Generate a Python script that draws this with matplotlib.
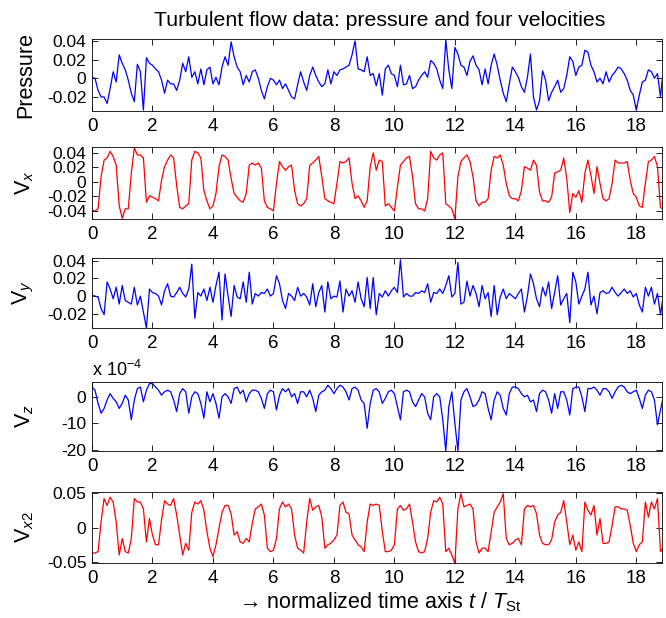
"""
Turbulent flow data: pressure and four velocities
=================================================

Five stacked time traces against normalized time t / T_St.
"""

import numpy as np
import matplotlib
matplotlib.use("Agg")
import matplotlib.pyplot as plt

# time axis, sampled every 0.1 T_St
t = np.arange(190) / 10.0

pressure = [
    0.001, 0.000, -0.013, -0.020, -0.020, -0.027, -0.011, 0.007, -0.004, 0.025,
    0.016, 0.009, -0.002, -0.016, -0.025, 0.015, 0.007, -0.034, 0.022, 0.016,
    0.014, 0.010, 0.007, -0.002, -0.016, -0.002, -0.006, -0.006, -0.013, -0.002,
    0.016, 0.007, 0.023, 0.001, 0.007, -0.006, 0.010, -0.007, 0.009, 0.012,
    -0.006, 0.001, -0.007, 0.012, 0.023, 0.014, 0.039, 0.023, 0.012, 0.007,
    -0.007, 0.003, -0.004, 0.007, 0.009, 0.000, -0.013, -0.022, -0.009, 0.000,
    -0.002, -0.007, -0.002, -0.011, -0.006, -0.013, -0.020, -0.022, -0.007, 0.007,
    -0.004, -0.013, 0.003, 0.012, 0.003, -0.004, -0.009, -0.006, 0.009, -0.006,
    0.007, 0.003, 0.009, 0.010, 0.012, 0.014, 0.025, 0.040, 0.010, 0.009,
    0.007, 0.023, 0.003, 0.005, -0.008, 0.005, -0.018, 0.010, 0.014, 0.005,
    0.003, -0.009, 0.014, -0.007, -0.006, 0.003, -0.011, -0.009, -0.002, 0.003,
    0.007, 0.001, 0.019, 0.016, 0.010, -0.002, -0.011, 0.041, 0.009, -0.011,
    0.033, 0.026, 0.014, 0.012, 0.003, 0.018, 0.024, 0.014, 0.009, -0.007,
    0.010, -0.006, 0.014, 0.026, 0.014, -0.002, -0.016, -0.025, -0.006, 0.012,
    0.007, 0.001, -0.009, -0.015, 0.001, 0.026, -0.020, -0.034, -0.024, 0.008,
    -0.002, -0.024, -0.015, -0.009, -0.002, -0.015, -0.011, 0.003, 0.023, 0.018,
    0.003, 0.012, 0.014, 0.030, 0.028, 0.014, 0.007, -0.004, 0.000, -0.006,
    0.007, -0.004, 0.003, 0.007, 0.012, 0.010, 0.005, -0.002, -0.013, -0.018,
    -0.034, -0.018, -0.004, -0.002, 0.009, 0.007, 0.000, 0.005, -0.020, 0.012,
]

vx = [
    -0.039, -0.040, -0.037, 0.007, 0.030, 0.033, 0.042, 0.035, 0.023, -0.033,
    -0.050, -0.037, -0.037, 0.012, 0.047, 0.037, 0.037, 0.033, -0.028, -0.019,
    -0.021, -0.023, -0.026, 0.002, 0.021, 0.030, 0.037, 0.033, -0.005, -0.035,
    -0.037, -0.033, -0.030, 0.030, 0.042, 0.040, 0.033, -0.012, -0.026, -0.037,
    -0.033, -0.016, 0.021, 0.037, 0.035, 0.030, 0.005, -0.016, -0.021, -0.026,
    -0.028, -0.016, 0.023, 0.026, 0.023, 0.026, 0.019, -0.026, -0.035, -0.037,
    -0.040, -0.002, 0.028, 0.021, 0.016, 0.021, 0.023, -0.012, -0.030, -0.033,
    -0.030, -0.023, 0.023, 0.026, 0.030, 0.035, 0.007, -0.023, -0.026, -0.028,
    -0.030, -0.002, 0.028, 0.026, 0.028, 0.033, -0.002, -0.023, -0.019, -0.026,
    -0.035, -0.026, 0.021, 0.040, 0.016, 0.030, 0.028, -0.033, -0.030, -0.035,
    -0.040, -0.007, 0.023, 0.028, 0.033, 0.035, 0.007, -0.030, -0.037, -0.037,
    -0.040, -0.023, 0.042, 0.033, 0.030, 0.037, 0.040, -0.030, -0.033, -0.037,
    -0.051, 0.007, 0.028, 0.033, 0.037, 0.028, 0.007, -0.026, -0.033, -0.028,
    -0.028, -0.023, 0.016, 0.035, 0.033, 0.037, 0.023, -0.002, -0.019, -0.023,
    -0.023, -0.026, -0.012, 0.021, 0.019, 0.016, 0.030, 0.023, -0.014, -0.026,
    -0.026, -0.028, -0.021, 0.012, 0.014, 0.016, 0.033, 0.005, -0.042, -0.016,
    -0.021, -0.012, -0.028, 0.012, 0.030, 0.009, -0.016, 0.021, -0.002, -0.023,
    -0.026, -0.023, -0.002, 0.030, 0.026, 0.026, 0.026, 0.028, 0.002, -0.016,
    -0.021, -0.033, -0.035, -0.002, 0.028, 0.030, 0.035, 0.021, -0.035, -0.038,
]

vy = [
    0.001, 0.000, -0.001, -0.014, -0.021, 0.016, 0.008, -0.003, 0.010, -0.009,
    0.012, -0.005, -0.007, -0.009, 0.010, -0.010, 0.000, -0.018, -0.036, 0.008,
    0.004, 0.003, 0.000, -0.010, 0.006, 0.014, 0.000, -0.001, 0.004, 0.010,
    0.003, -0.001, 0.008, 0.036, -0.025, 0.004, 0.000, 0.008, -0.005, 0.010,
    -0.007, 0.012, 0.027, -0.027, 0.025, 0.000, -0.023, 0.012, -0.001, -0.003,
    0.016, -0.007, 0.027, -0.009, 0.003, 0.000, 0.004, 0.003, 0.008, 0.000,
    0.003, 0.023, 0.014, -0.005, -0.014, 0.003, 0.000, -0.005, 0.010, 0.000,
    0.003, -0.001, -0.010, 0.014, -0.012, 0.004, 0.012, -0.018, 0.016, -0.003,
    0.000, -0.001, 0.017, -0.018, 0.008, 0.000, 0.006, -0.007, 0.016, -0.003,
    -0.012, 0.021, -0.014, 0.021, -0.021, 0.003, -0.001, 0.006, 0.000, 0.006,
    0.010, 0.004, 0.041, -0.001, 0.003, 0.000, 0.000, 0.004, 0.003, 0.006,
    0.004, 0.014, -0.007, 0.004, 0.003, 0.008, 0.003, 0.012, 0.023, -0.001,
    0.003, 0.038, -0.009, -0.007, 0.017, 0.000, 0.012, 0.003, -0.012, 0.012,
    -0.003, 0.004, -0.023, 0.012, -0.021, -0.001, 0.008, -0.003, 0.003, 0.000,
    -0.003, 0.003, 0.008, -0.018, 0.000, 0.025, 0.014, -0.003, -0.012, 0.010,
    0.000, 0.016, -0.014, 0.004, 0.023, -0.010, -0.003, 0.003, -0.030, 0.027,
    0.016, -0.009, 0.000, 0.008, 0.027, -0.010, 0.000, -0.020, 0.004, 0.006,
    0.003, 0.004, 0.010, 0.004, 0.000, 0.004, 0.008, 0.003, 0.006, -0.001,
    0.003, -0.010, -0.018, 0.010, 0.000, 0.010, -0.009, 0.003, -0.021, 0.003,
]

# Vz in units of 1e-4
vz = [
    3.7, 2.5, -2.5, -6.2, -4.4, -1.2, 1.2, -0.6, -1.9, -4.4,
    -2.5, 0.6, -1.2, -8.7, -1.2, 3.1, 3.7, -1.9, 2.5, 5.0,
    5.0, 3.7, 2.5, 0.6, 1.9, 2.5, 1.9, -1.2, -5.6, 1.2,
    3.1, 1.9, -6.2, 0.0, 1.9, 1.2, -2.5, -8.1, 1.9, -1.9,
    1.2, -2.5, -8.1, 0.0, 1.2, 0.0, -2.5, 3.1, 3.7, 1.2,
    2.5, -1.9, 1.2, 2.5, 2.5, 1.9, -0.6, -4.4, 1.2, 2.5,
    1.9, -5.0, 0.6, 3.1, 1.9, 3.1, 0.0, 1.2, -2.5, 1.9,
    1.9, 0.0, 2.5, -0.6, -5.6, 0.6, 1.9, 2.5, 4.4, 3.1,
    1.2, 3.1, 4.4, 3.7, 1.9, -1.2, 3.1, 3.7, 2.5, -1.2,
    -2.5, -11.9, -2.5, 2.5, 3.1, 1.9, -2.5, -0.6, 1.9, 2.5,
    1.2, -3.7, -8.7, 1.9, 2.5, 1.9, -1.9, -3.7, -1.2, 1.2,
    0.0, -6.2, -8.7, 0.0, 1.2, 0.0, -8.7, -20.5, -3.7, 1.9,
    -10.0, -20.5, -1.2, 1.9, 3.1, 0.0, -3.7, -3.1, -1.2, 1.9,
    1.2, -4.4, -8.7, -1.2, 1.9, 0.6, -4.4, -6.9, 1.2, 3.7,
    3.7, 3.1, 1.2, 0.0, 0.6, -1.9, -1.2, -5.6, 1.2, 2.5,
    1.9, -1.2, -6.2, 1.2, -4.4, 1.9, 1.9, -1.2, -6.9, 3.1,
    3.7, 3.7, 0.0, -5.6, 3.1, 3.1, 3.7, 2.5, 0.6, 3.1,
    3.1, 1.9, -0.6, 1.9, 3.7, 4.4, 3.7, 1.9, 1.2, 1.9,
    2.5, -0.6, -4.4, 0.6, 2.5, 1.9, -1.2, -10.6, -5.0, 0.6,
]

vx2 = [
    -0.037, -0.037, -0.035, 0.008, 0.042, 0.032, 0.044, 0.037, 0.008, -0.040,
    -0.016, -0.035, -0.037, -0.016, 0.042, 0.037, 0.037, 0.027, -0.021, 0.013,
    -0.011, -0.025, -0.025, 0.011, 0.039, 0.034, 0.032, 0.042, 0.018, -0.011,
    -0.040, -0.023, -0.033, 0.022, 0.037, 0.034, 0.039, 0.025, -0.006, -0.030,
    -0.042, -0.025, -0.001, 0.022, 0.032, 0.032, 0.020, -0.011, -0.006, -0.021,
    -0.023, -0.016, -0.021, 0.006, 0.027, 0.030, 0.034, 0.018, -0.030, -0.035,
    -0.033, -0.016, 0.027, 0.037, 0.030, 0.034, 0.027, -0.011, -0.030, -0.033,
    -0.037, 0.008, 0.042, 0.025, 0.030, 0.032, 0.015, -0.030, -0.025, -0.023,
    -0.018, -0.011, 0.032, 0.037, 0.022, 0.020, -0.011, -0.018, -0.025, -0.028,
    -0.035, 0.008, 0.034, 0.032, 0.034, 0.032, -0.006, -0.035, -0.035, -0.033,
    -0.025, 0.027, 0.032, 0.025, 0.027, 0.034, 0.008, -0.021, -0.035, -0.037,
    -0.035, -0.016, 0.022, 0.039, 0.037, 0.044, 0.034, -0.035, -0.030, -0.040,
    -0.052, 0.027, 0.049, 0.030, 0.032, 0.034, 0.027, -0.021, -0.037, -0.030,
    -0.030, -0.035, -0.006, 0.022, 0.030, 0.037, 0.049, -0.016, -0.025, -0.023,
    -0.018, -0.016, -0.025, 0.027, 0.032, 0.030, 0.032, 0.020, -0.011, -0.023,
    -0.025, -0.025, -0.018, 0.008, 0.018, 0.022, 0.039, 0.008, -0.025, -0.011,
    -0.033, -0.021, -0.035, 0.037, 0.025, 0.018, 0.032, -0.011, 0.013, -0.023,
    -0.023, -0.021, 0.003, 0.030, 0.030, 0.027, 0.027, 0.025, 0.003, -0.023,
    -0.035, -0.025, -0.021, 0.037, 0.015, 0.037, 0.027, 0.042, -0.035, -0.028,
]

xticks = [0, 2, 4, 6, 8, 10, 12, 14, 16, 18]

plt.rcParams['font.family'] = ['Liberation Sans', 'DejaVu Sans']
plt.rcParams['mathtext.fontset'] = 'custom'
plt.rcParams['mathtext.rm'] = 'Liberation Sans'
plt.rcParams['mathtext.it'] = 'Liberation Sans:italic'
plt.rcParams['axes.unicode_minus'] = False

fig = plt.figure(figsize=(6.66, 6.18), dpi=100)

# (series, color, ylabel, ylim, yticks, yticklabels, (top, bottom) in px)
panels = [
    (pressure, 'blue', 'Pressure', (-0.035, 0.042),
     [-0.02, 0, 0.02, 0.04], ['-0.02', '0', '0.02', '0.04'], (39, 111)),
    (vx, 'red', r'V$_x$', (-0.051, 0.048),
     [-0.04, -0.02, 0, 0.02, 0.04], ['-0.04', '-0.02', '0', '0.02', '0.04'], (147, 219)),
    (vy, 'blue', r'V$_y$', (-0.036, 0.043),
     [-0.02, 0, 0.02, 0.04], ['-0.02', '0', '0.02', '0.04'], (258, 328)),
    (vz, 'blue', r'V$_z$', (-20.5, 5.6),
     [-20, -10, 0], ['-20', '-10', '0'], (382, 451)),
    (vx2, 'red', r'V$_{x2}$', (-0.0515, 0.0515),
     [-0.05, 0, 0.05], ['-0.05', '0', '0.05'], (492, 563)),
]

W, H = 666.0, 618.0
for series, color, label, ylim, yt, ytl, (top, bot) in panels:
    ax = fig.add_axes([92 / W, 1 - bot / H, 570 / W, (bot - top) / H])
    ax.plot(t, series, color=color, linewidth=0.9)
    ax.set_xlim(0, 18.85)
    ax.set_ylim(*ylim)
    ax.set_xticks(xticks)
    ax.set_yticks(yt)
    ax.set_yticklabels(ytl)
    ax.tick_params(direction='in', top=True, right=True, length=4,
                   labelsize=13.5, pad=4, width=0.6)
    ax.tick_params(axis='y', labelsize=12.5)
    ax.tick_params(axis='x', pad=5)
    for sp in ax.spines.values():
        sp.set_linewidth(0.6)
    ax.set_ylabel(label, fontsize=15.5)
    ax.yaxis.set_label_coords(-0.098, 0.5)

fig.text(92 / W, 1 - 370 / H, r'x 10$^{-4}$', fontsize=13, va='center', ha='left')
fig.text(380 / W, 1 - 20 / H, 'Turbulent flow data: pressure and four velocities',
         fontsize=15.3, ha='center', va='center')
fig.text(380 / W, 1 - 602 / H, '\u2192 normalized time axis $t$ / $T_{\\mathrm{St}}$',
         fontsize=15.5, ha='center', va='center')

fig.savefig('out.png', dpi=100)
